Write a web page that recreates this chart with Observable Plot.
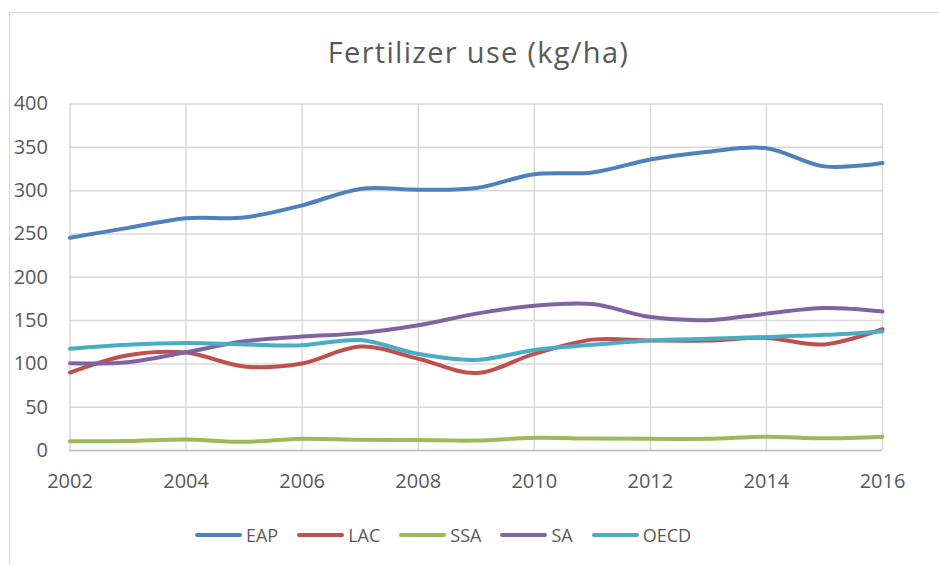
<!DOCTYPE html>
<html>
<head>
<meta charset="utf-8">
<script src="https://cdn.jsdelivr.net/npm/d3@7"></script>
<script src="https://cdn.jsdelivr.net/npm/@observablehq/plot@0.6"></script>
<style>
  html, body { margin: 0; padding: 0; background: #fff; overflow: hidden; }
  body { width: 939px; height: 565px; position: relative; font-family: "Open Sans", sans-serif; }
  #border { position: absolute; left: 9px; top: 12px; width: 1000px; height: 700px;
            border-left: 1.5px solid #d9d9d9; border-top: 1.5px solid #d9d9d9; }
  #title { position: absolute; left: 9px; width: 939px; top: 32px; text-align: center;
           font-size: 29px; letter-spacing: 1.3px; line-height: 40px; color: #595959; }
  #chart { position: absolute; left: 0; top: 90px; }
  #legend { position: absolute; left: 0; width: 886px; top: 520px; height: 30px;
            display: flex; justify-content: center; align-items: center; gap: 19px;
            font-size: 18px; color: #595959; }
  .item { display: flex; align-items: center; gap: 4px; }
  .sw { width: 47px; height: 4px; border-radius: 2px; }
</style>
</head>
<body>
<div id="border"></div>
<div id="title">Fertilizer use (kg/ha)</div>
<div id="chart"></div>
<div id="legend"></div>
<script>
const years = [2002,2003,2004,2005,2006,2007,2008,2009,2010,2011,2012,2013,2014,2015,2016];
const seriesNames = ["EAP","LAC","SSA","SA","OECD"];
const seriesColors = ["#4f81bd","#c0504d","#9bbb59","#8064a2","#4bacc6"];
const EAP  = [245.5,257,268,269,283,302,301,303,319,321,336,345,349,328,332];
const LAC  = [90,110,113,97,100.5,120,106,89.5,111.5,128,127,127,130,122.5,140];
const SSA  = [10.8,11,12.7,10,13.5,12.3,12,11.5,14.6,13.8,13.5,13.5,16,14,16];
const SA   = [100.8,102,113.5,126,131.5,135.5,144.5,158,167,169,154,150.5,158,164.5,160.5];
const OECD = [117.5,122,124,122.5,121.5,127.5,111.5,104.5,116,122,127,129,131,133.5,137.5];
const xTicks = [2002,2004,2006,2008,2010,2012,2014,2016];
const yTicks = [0,50,100,150,200,250,300,350,400];

const valuesBySeries = {EAP, LAC, SSA, SA, OECD};
const data = seriesNames.flatMap(s => years.map((yr, i) => ({series: s, year: yr, value: valuesBySeries[s][i]})));

const grid = {stroke: "#d9d9d9", strokeOpacity: 1, strokeWidth: 1.5};
const chart = Plot.plot({
  width: 939, height: 420,
  marginLeft: 69.5, marginRight: 57, marginTop: 13.5, marginBottom: 60,
  x: {domain: [2002, 2016]},
  y: {domain: [0, 400]},
  color: {domain: seriesNames, range: seriesColors},
  style: {fontFamily: "Open Sans, sans-serif", background: "transparent"},
  marks: [
    Plot.gridX(xTicks, grid),
    Plot.gridY(yTicks, grid),
    Plot.ruleY([0], {stroke: "#bfbfbf", strokeWidth: 1.5}),
    Plot.axisX(xTicks, {tickSize: 0, tickPadding: 23, fontSize: 20, fill: "#595959", label: null, tickFormat: d => String(d)}),
    Plot.axisY(yTicks, {tickSize: 0, tickPadding: 22, fontSize: 20, fill: "#595959", label: null}),
    Plot.line(data, {x: "year", y: "value", z: "series", stroke: "series", strokeWidth: 4, curve: "cardinal", tension: 0})
  ]
});
document.getElementById("chart").appendChild(chart);

const legend = document.getElementById("legend");
seriesNames.forEach((s, i) => {
  const item = document.createElement("div");
  item.className = "item";
  const sw = document.createElement("div");
  sw.className = "sw";
  sw.style.background = seriesColors[i];
  const t = document.createElement("span");
  t.textContent = s;
  item.appendChild(sw); item.appendChild(t);
  legend.appendChild(item);
});
</script>
</body>
</html>
